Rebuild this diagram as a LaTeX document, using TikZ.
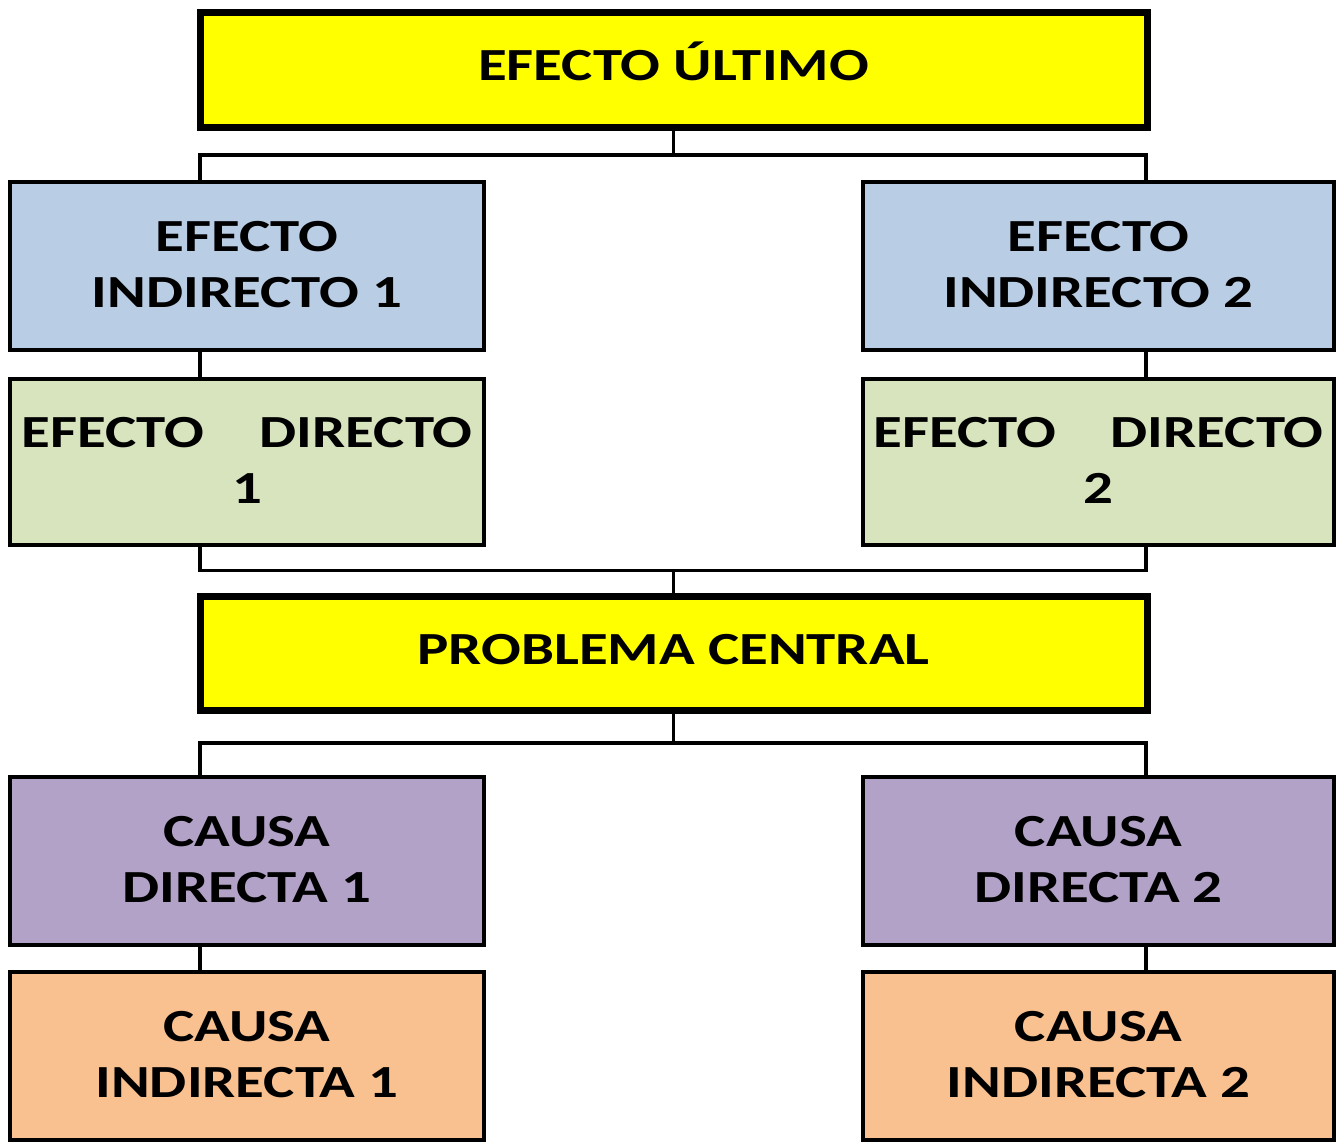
\documentclass[tikz,border=0pt]{standalone}
\usepackage{fontspec}
\newfontfamily\boxfont{Carlito}[FakeStretch=1.28]
\definecolor{yel}{HTML}{FFFF00}
\definecolor{lblue}{HTML}{B9CDE5}
\definecolor{lgreen}{HTML}{D7E4BD}
\definecolor{lpurple}{HTML}{B2A2C7}
\definecolor{lorange}{HTML}{F9C090}
\tikzset{
  box/.style={draw=black, line width=3.5pt, inner sep=0pt, align=center,
    font=\boxfont\bfseries\fontsize{46}{56}\selectfont},
  bigbox/.style={box, fill=yel, line width=7pt, minimum width=947pt},
  sidebox/.style={box, minimum height=168pt, text depth=4pt},
  conn/.style={draw=black, line width=3.5pt}
}
\begin{document}
\begin{tikzpicture}[x=1pt,y=-1pt]
\useasboundingbox (0,0) rectangle (1336,1144);
% nodes
\node[bigbox, minimum height=115pt, text height=29.6pt, text depth=9pt] (top) at (673.5,70) {EFECTO ÚLTIMO};
\node[sidebox, fill=lblue, minimum width=474pt] (ei1) at (247,266) {EFECTO\\INDIRECTO 1};
\node[sidebox, fill=lblue, minimum width=471pt] (ei2) at (1098.5,266) {EFECTO\\INDIRECTO 2};
\node[sidebox, fill=lgreen, minimum width=474pt, minimum height=166pt] (ed1) at (247,462) {\hbox to 451pt{EFECTO\hfill DIRECTO}\\1};
\node[sidebox, fill=lgreen, minimum width=471pt, minimum height=166pt] (ed2) at (1098.5,462) {\hbox to 450pt{EFECTO\hfill DIRECTO}\\2};
\node[bigbox, minimum height=114pt, text height=29.6pt, text depth=6pt] (pc) at (673.5,653) {PROBLEMA CENTRAL};
\node[sidebox, fill=lpurple, minimum width=474pt] (cd1) at (247,861) {CAUSA\\DIRECTA 1};
\node[sidebox, fill=lpurple, minimum width=471pt] (cd2) at (1098.5,861) {CAUSA\\DIRECTA 2};
\node[sidebox, fill=lorange, minimum width=474pt] (ci1) at (247,1056) {CAUSA\\INDIRECTA 1};
\node[sidebox, fill=lorange, minimum width=471pt] (ci2) at (1098.5,1056) {CAUSA\\INDIRECTA 2};
% junction coordinates
\coordinate (c1L) at (200,155);
\coordinate (c1R) at (1146,155);
\coordinate (c2L) at (200,570.5);
\coordinate (c2R) at (1146,570.5);
\coordinate (c3L) at (200,743);
\coordinate (c3R) at (1146,743);
% connectors
\draw[conn] (top.south) -- (top.south |- c1L);
\draw[conn] (c1L |- ei1.north) -- (c1L) -- (c1R) -- (c1R |- ei2.north);
\draw[conn] (c1L |- ei1.south) -- (c1L |- ed1.north);
\draw[conn] (c1R |- ei2.south) -- (c1R |- ed2.north);
\draw[conn] (c2L |- ed1.south) -- (c2L) -- (c2R) -- (c2R |- ed2.south);
\draw[conn] (c2L -| pc.north) -- (pc.north);
\draw[conn] (pc.south) -- (pc.south |- c3L);
\draw[conn] (c3L |- cd1.north) -- (c3L) -- (c3R) -- (c3R |- cd2.north);
\draw[conn] (c3L |- cd1.south) -- (c3L |- ci1.north);
\draw[conn] (c3R |- cd2.south) -- (c3R |- ci2.north);
\end{tikzpicture}
\end{document}
